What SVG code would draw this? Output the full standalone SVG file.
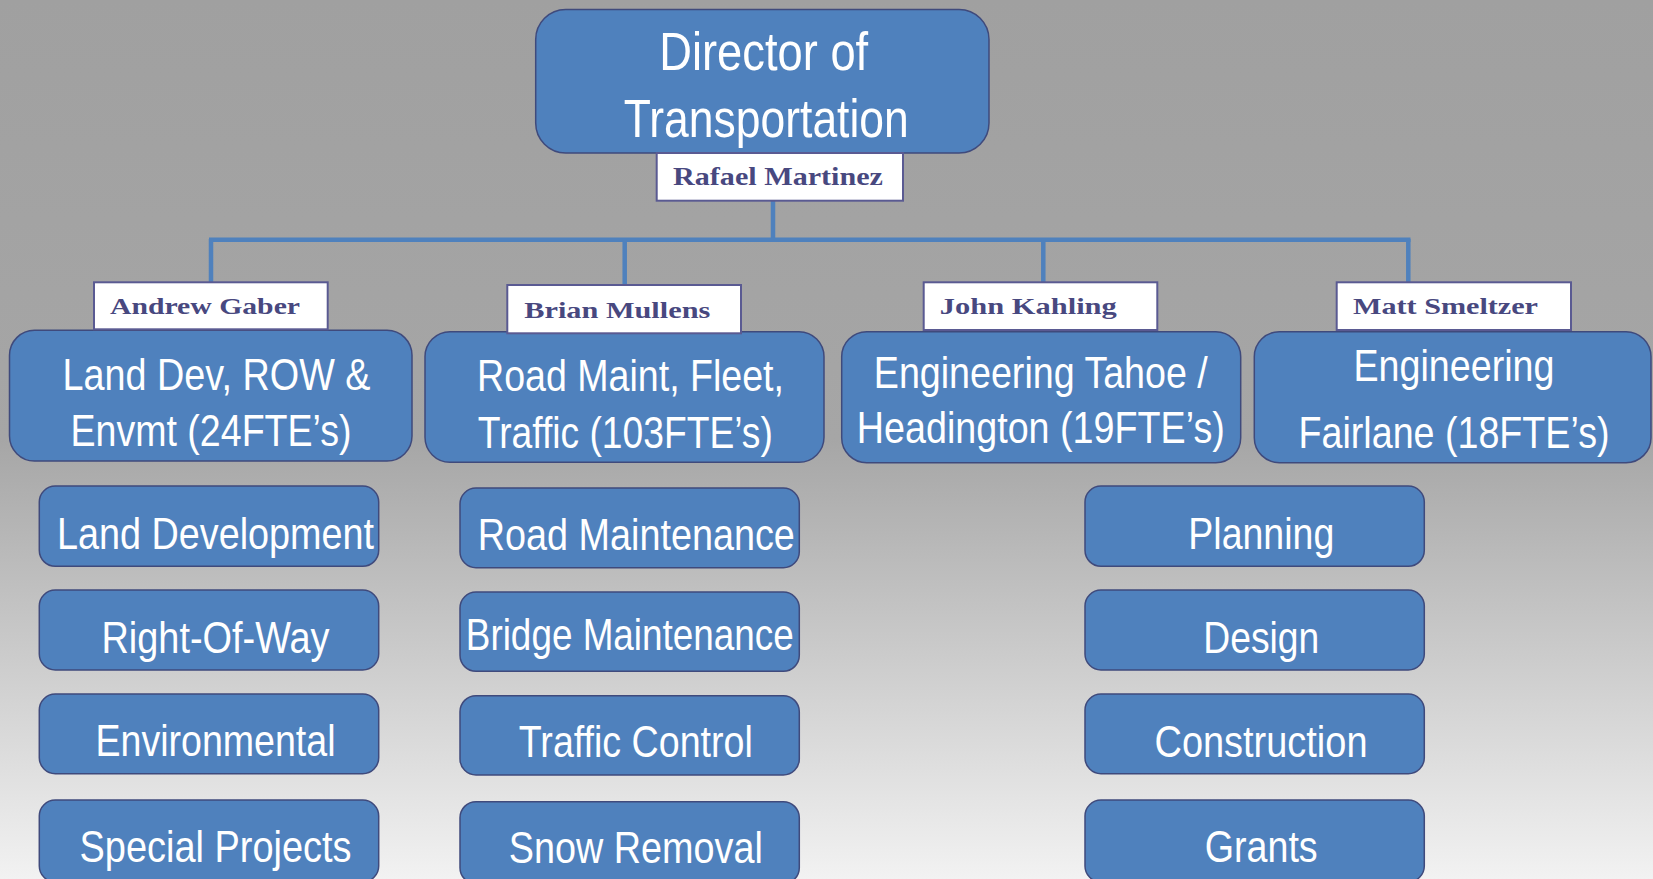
<svg xmlns="http://www.w3.org/2000/svg" width="1653" height="879" viewBox="0 0 1653 879">
<defs>
<linearGradient id="bg" x1="0" y1="0" x2="0" y2="1">
<stop offset="0" stop-color="#a0a0a0"/>
<stop offset="0.5" stop-color="#a6a6a6"/>
<stop offset="1" stop-color="#f2f2f2"/>
</linearGradient>
</defs>
<style>
.box{fill:#4f81bd;stroke:#3f4a7c;stroke-width:1.5}
.nm{fill:#ffffff;stroke:#5a5a92;stroke-width:2}
.t{font-family:"Liberation Sans",Arial,sans-serif;fill:#ffffff;text-anchor:middle;font-size:44px}
.td{font-family:"Liberation Sans",Arial,sans-serif;fill:#ffffff;text-anchor:middle;font-size:53px}
.n{font-family:"Liberation Serif","Times New Roman",serif;font-weight:bold;fill:#48487f;text-anchor:middle;font-size:24px}
.c{stroke:#4f81bd;stroke-width:4.5;fill:none}
</style>
<rect width="1653" height="879" fill="url(#bg)"/>
<g id="connectors">
<line class="c" x1="773" y1="200" x2="773" y2="240"/>
<line class="c" x1="209" y1="239.7" x2="1410.5" y2="239.7"/>
<line class="c" x1="211" y1="239" x2="211" y2="283"/>
<line class="c" x1="624.7" y1="239" x2="624.7" y2="286"/>
<line class="c" x1="1043.3" y1="239" x2="1043.3" y2="283"/>
<line class="c" x1="1408.3" y1="239" x2="1408.3" y2="283"/>
</g>
<g id="director">
<rect class="box" x="535.7" y="9.5" width="453.3" height="143.5" rx="30"/>
<text class="td" x="763.7" y="70.3" textLength="209" lengthAdjust="spacingAndGlyphs">Director of</text>
<text class="td" x="766.3" y="136.7" textLength="285" lengthAdjust="spacingAndGlyphs">Transportation</text>
</g>
<g id="name-rafael">
<rect class="nm" x="656.7" y="153" width="246.3" height="47.7"/>
<text class="n" x="778" y="185" style="font-size:25px" textLength="210" lengthAdjust="spacingAndGlyphs">Rafael Martinez</text>
</g>
<g id="landdev">
<rect class="box" x="9.5" y="330.3" width="402.5" height="130.7" rx="25"/>
<text class="t" x="216.5" y="390" textLength="308" lengthAdjust="spacingAndGlyphs">Land Dev, ROW &amp;</text>
<text class="t" x="211" y="446" textLength="281" lengthAdjust="spacingAndGlyphs">Envmt (24FTE’s)</text>
</g>
<g id="name-andrew">
<rect class="nm" x="94" y="282.3" width="233.7" height="47"/>
<text class="n" x="205" y="314.3" textLength="190" lengthAdjust="spacingAndGlyphs">Andrew Gaber</text>
</g>
<g id="roadmaint">
<rect class="box" x="425" y="331.7" width="399" height="130.6" rx="25"/>
<text class="t" x="630.5" y="391" textLength="307" lengthAdjust="spacingAndGlyphs">Road Maint, Fleet,</text>
<text class="t" x="625.3" y="447.7" textLength="295" lengthAdjust="spacingAndGlyphs">Traffic (103FTE’s)</text>
</g>
<g id="name-brian">
<rect class="nm" x="507.3" y="285" width="233.7" height="48.3"/>
<text class="n" x="617.3" y="318.3" textLength="186" lengthAdjust="spacingAndGlyphs">Brian Mullens</text>
</g>
<g id="engtahoe">
<rect class="box" x="841.7" y="331.7" width="399" height="131" rx="25"/>
<text class="t" x="1040.8" y="388.3" textLength="334" lengthAdjust="spacingAndGlyphs">Engineering Tahoe /</text>
<text class="t" x="1040.8" y="443.3" textLength="368" lengthAdjust="spacingAndGlyphs">Headington (19FTE’s)</text>
</g>
<g id="name-john">
<rect class="nm" x="923.7" y="282.3" width="233.6" height="47.7"/>
<text class="n" x="1028.3" y="314.3" textLength="177" lengthAdjust="spacingAndGlyphs">John Kahling</text>
</g>
<g id="engfairlane">
<rect class="box" x="1254.3" y="331.7" width="396.7" height="131" rx="25"/>
<text class="t" x="1454" y="381" textLength="201" lengthAdjust="spacingAndGlyphs">Engineering</text>
<text class="t" x="1454" y="447.7" textLength="311" lengthAdjust="spacingAndGlyphs">Fairlane (18FTE’s)</text>
</g>
<g id="name-matt">
<rect class="nm" x="1336.7" y="282.3" width="234.3" height="47.7"/>
<text class="n" x="1445.5" y="314" textLength="185" lengthAdjust="spacingAndGlyphs">Matt Smeltzer</text>
</g>
<g id="land-development">
<rect class="box" x="39.3" y="486" width="339.4" height="80.3" rx="16"/>
<text class="t" x="215.5" y="549" textLength="317" lengthAdjust="spacingAndGlyphs">Land Development</text>
</g>
<g id="right-of-way">
<rect class="box" x="39.3" y="590" width="339.4" height="80" rx="16"/>
<text class="t" x="215.5" y="652.7" textLength="228" lengthAdjust="spacingAndGlyphs">Right-Of-Way</text>
</g>
<g id="environmental">
<rect class="box" x="39.3" y="694" width="339.4" height="79.7" rx="16"/>
<text class="t" x="215.5" y="756" textLength="240" lengthAdjust="spacingAndGlyphs">Environmental</text>
</g>
<g id="special-projects">
<rect class="box" x="39.3" y="800" width="339.4" height="82" rx="16"/>
<text class="t" x="215.5" y="861.7" textLength="272" lengthAdjust="spacingAndGlyphs">Special Projects</text>
</g>
<g id="road-maintenance">
<rect class="box" x="460" y="488" width="339.3" height="79.7" rx="16"/>
<text class="t" x="636.3" y="550" textLength="317" lengthAdjust="spacingAndGlyphs">Road Maintenance</text>
</g>
<g id="bridge-maintenance">
<rect class="box" x="460" y="592" width="339.3" height="79.3" rx="16"/>
<text class="t" x="629.8" y="650" textLength="328" lengthAdjust="spacingAndGlyphs">Bridge Maintenance</text>
</g>
<g id="traffic-control">
<rect class="box" x="460" y="695.7" width="339.3" height="79.3" rx="16"/>
<text class="t" x="635.8" y="756.7" textLength="234" lengthAdjust="spacingAndGlyphs">Traffic Control</text>
</g>
<g id="snow-removal">
<rect class="box" x="460" y="801.7" width="339.3" height="82" rx="16"/>
<text class="t" x="635.8" y="862.7" textLength="254" lengthAdjust="spacingAndGlyphs">Snow Removal</text>
</g>
<g id="planning">
<rect class="box" x="1085" y="486" width="339.3" height="80.3" rx="16"/>
<text class="t" x="1261.3" y="549" textLength="146" lengthAdjust="spacingAndGlyphs">Planning</text>
</g>
<g id="design">
<rect class="box" x="1085" y="590" width="339.3" height="80" rx="16"/>
<text class="t" x="1261.3" y="652.7" textLength="116" lengthAdjust="spacingAndGlyphs">Design</text>
</g>
<g id="construction">
<rect class="box" x="1085" y="694" width="339.3" height="79.7" rx="16"/>
<text class="t" x="1261" y="756.7" textLength="213" lengthAdjust="spacingAndGlyphs">Construction</text>
</g>
<g id="grants">
<rect class="box" x="1085" y="800" width="339.3" height="82" rx="16"/>
<text class="t" x="1261.2" y="862.3" textLength="113" lengthAdjust="spacingAndGlyphs">Grants</text>
</g>
</svg>
